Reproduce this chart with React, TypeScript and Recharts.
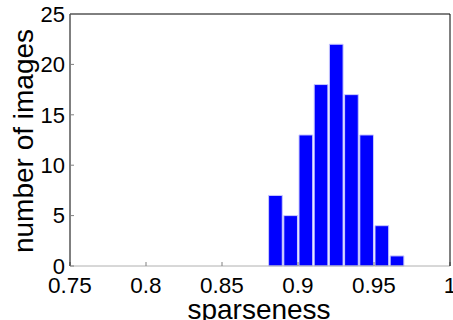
import { BarChart, Bar, XAxis, YAxis, Label } from "recharts";

// histogram bins (centers) and counts
const binCenters = [0.885, 0.895, 0.905, 0.915, 0.925, 0.935, 0.945, 0.955, 0.965];
const counts = [7, 5, 13, 18, 22, 17, 13, 4, 1];
const xTicks = [0.75, 0.8, 0.85, 0.9, 0.95, 1];
const yTicks = [0, 5, 10, 15, 20, 25];

const data = binCenters.map((x, i) => ({ x, count: counts[i] }));

const FONT = "'Liberation Sans', Arial, Helvetica, sans-serif";

export default function App() {
  return (
    <div style={{ position: "absolute", left: 0, top: 0, background: "#fff" }}>
      <BarChart
        width={453}
        height={320}
        data={data}
        margin={{ top: 13, right: 2, bottom: 0, left: 0 }}
        barCategoryGap={0}
        barGap={0}
      >
        <XAxis
          xAxisId="b"
          dataKey="x"
          type="number"
          domain={[0.75, 1]}
          ticks={xTicks}
          interval={0}
          height={54}
          tickSize={-4}
          tickMargin={15}
          axisLine={{ stroke: "#b0b0b0" }}
          tickLine={{ stroke: "#808080" }}
          tick={{ fill: "#000", fontSize: 22.5, fontFamily: FONT }}
        >
          <Label
            content={() => (
              <text x={259} y={319} textAnchor="middle" fontSize={28} fontFamily={FONT} fill="#000">
                sparseness
              </text>
            )}
          />
        </XAxis>
        <XAxis
          xAxisId="t"
          dataKey="x"
          type="number"
          orientation="top"
          domain={[0.75, 1]}
          ticks={xTicks}
          interval={0}
          height={1}
          tickSize={-4}
          axisLine={{ stroke: "#000" }}
          tickLine={{ stroke: "#808080" }}
          tick={false}
        />
        <YAxis
          yAxisId="l"
          type="number"
          domain={[0, 25]}
          ticks={yTicks}
          interval={0}
          width={70}
          tickSize={-4}
          tickMargin={9}
          axisLine={{ stroke: "#000" }}
          tickLine={{ stroke: "#808080" }}
          tick={{ fill: "#000", fontSize: 22, fontFamily: FONT }}
        >
          <Label
            content={() => (
              <text
                x={33}
                y={141}
                transform="rotate(-90 33 141)"
                textAnchor="middle"
                fontSize={28}
                fontFamily={FONT}
                fill="#000"
              >
                number of images
              </text>
            )}
          />
        </YAxis>
        <YAxis
          yAxisId="r"
          orientation="right"
          type="number"
          domain={[0, 25]}
          ticks={yTicks}
          interval={0}
          width={1}
          tickSize={-4}
          axisLine={{ stroke: "#000" }}
          tickLine={{ stroke: "#808080" }}
          tick={false}
        />
        <Bar
          xAxisId="b"
          yAxisId="l"
          dataKey="count"
          barSize={15.2}
          fill="#0000ff"
          stroke="#c8c8ff"
          strokeWidth={1}
          isAnimationActive={false}
        />
      </BarChart>
    </div>
  );
}
